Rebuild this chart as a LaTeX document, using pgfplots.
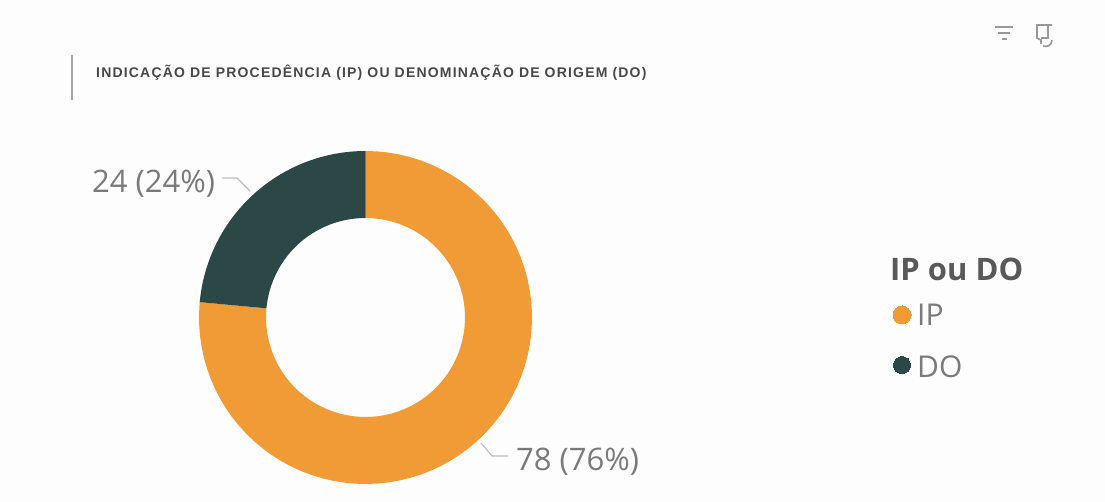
\documentclass[border=0pt]{standalone}
\usepackage{pgfplots}
\pgfplotsset{compat=1.18}
\usepackage{fontspec}
\setmainfont{Open Sans}
\newfontfamily\titlefont[LetterSpace=8.5]{Liberation Sans}
\definecolor{ipcolor}{HTML}{F09B35}
\definecolor{docolor}{HTML}{2B4846}
\definecolor{labelgrey}{HTML}{7A7A7A}
\definecolor{titlegrey}{HTML}{484848}
\definecolor{leadergrey}{HTML}{BDBDBD}
\definecolor{paper}{HTML}{FDFDFD}

% Ring geometry, in units of the axis
\def\cx{365.5}\def\cy{317.5}\def\Rout{166.5}\def\Rin{99.5}
% Category counts
\def\valIP{78}\def\valDO{24}

% \ringsector{macro}{start value}{value}: outline of one sector, clockwise from 12 o'clock
\newcommand{\ringsector}[3]{%
  \pgfmathsetmacro{\total}{\valIP+\valDO}%
  \pgfmathsetmacro{\angA}{360/\total*#2}%
  \pgfmathsetmacro{\angB}{360/\total*(#2+#3)}%
  \gdef\ringlist{}%
  \foreach \i in {0,...,72}{%
    \pgfmathsetmacro{\a}{\angA+(\angB-\angA)/72*\i}%
    \pgfmathsetmacro{\px}{\cx+\Rout*sin(\a)}%
    \pgfmathsetmacro{\py}{\cy-\Rout*cos(\a)}%
    \xdef\ringlist{\ringlist (\px,\py)}%
  }%
  \foreach \i in {72,71,...,0}{%
    \pgfmathsetmacro{\a}{\angA+(\angB-\angA)/72*\i}%
    \pgfmathsetmacro{\px}{\cx+\Rin*sin(\a)}%
    \pgfmathsetmacro{\py}{\cy-\Rin*cos(\a)}%
    \xdef\ringlist{\ringlist (\px,\py)}%
  }%
  \global\let#1\ringlist
}
\ringsector{\sectorIP}{0}{\valIP}
\ringsector{\sectorDO}{\valIP}{\valDO}

\begin{document}
\begin{tikzpicture}
\begin{axis}[
  scale only axis, width=1105pt, height=502pt,
  xmin=0, xmax=1105, ymin=0, ymax=502, y dir=reverse,
  hide axis, clip=false,
]
\fill[paper] (axis cs:0,0) rectangle (axis cs:1105,502);

% Sectors of the ring
\edef\drawsectors{%
  \noexpand\addplot[fill=ipcolor, draw=none] coordinates {\sectorIP} -- cycle;
  \noexpand\addplot[fill=docolor, draw=none] coordinates {\sectorDO} -- cycle;
}
\drawsectors

% Leader lines
\addplot[leadergrey, line width=1.1pt, sharp plot] coordinates {(222,178) (237,178) (250,191)};
\addplot[leadergrey, line width=1.1pt, sharp plot] coordinates {(481,443) (492,456) (508,456)};

% Legend markers
\addplot[only marks, mark=*, mark size=9pt, color=ipcolor, mark options={fill=ipcolor, draw=ipcolor, line width=0pt}] coordinates {(902,315)};
\addplot[only marks, mark=*, mark size=8.5pt, color=docolor, mark options={fill=docolor, draw=docolor, line width=0pt}] coordinates {(902,365)};

% Heading with its rule
\addplot[gray!70, line width=1.2pt, sharp plot] coordinates {(72,55) (72,100)};
\node[anchor=base west, inner sep=0pt, text=titlegrey, font=\titlefont\bfseries\fontsize{14}{16}\selectfont]
  at (axis cs:96,78) {INDICAÇÃO DE PROCEDÊNCIA (IP) OU DENOMINAÇÃO DE ORIGEM (DO)};

% Value labels
\node[anchor=base west, inner sep=0pt, text=labelgrey, font=\fontsize{31}{35}\selectfont]
  at (axis cs:92,193) {24 (24\%)};
\node[anchor=base west, inner sep=0pt, text=labelgrey, font=\fontsize{31}{35}\selectfont]
  at (axis cs:516,470) {78 (76\%)};

% Legend text
\node[anchor=base west, inner sep=0pt, text=black!65, font=\bfseries\fontsize{31}{35}\selectfont]
  at (axis cs:890,281) {IP ou DO};
\node[anchor=base west, inner sep=0pt, text=labelgrey, font=\fontsize{30}{34}\selectfont]
  at (axis cs:917,326) {IP};
\node[anchor=base west, inner sep=0pt, text=labelgrey, font=\fontsize{30}{34}\selectfont]
  at (axis cs:917,377) {DO};

% Toolbar icons
\draw[gray!80, line width=1.1pt]
  (axis cs:995,27) -- (axis cs:1013,27)
  (axis cs:998,33) -- (axis cs:1010,33)
  (axis cs:1001.5,39) -- (axis cs:1006.5,39);
\draw[gray!80, line width=1.6pt]
  (axis cs:1052,25) -- (axis cs:1037,25) -- (axis cs:1037,38) -- (axis cs:1041,40) -- (axis cs:1041,44)
  (axis cs:1048,25) -- (axis cs:1048,38) -- (axis cs:1041,38)
  (axis cs:1052,40) .. controls (axis cs:1051,46) and (axis cs:1048,47) .. (axis cs:1043,46);
\end{axis}
\end{tikzpicture}
\end{document}
